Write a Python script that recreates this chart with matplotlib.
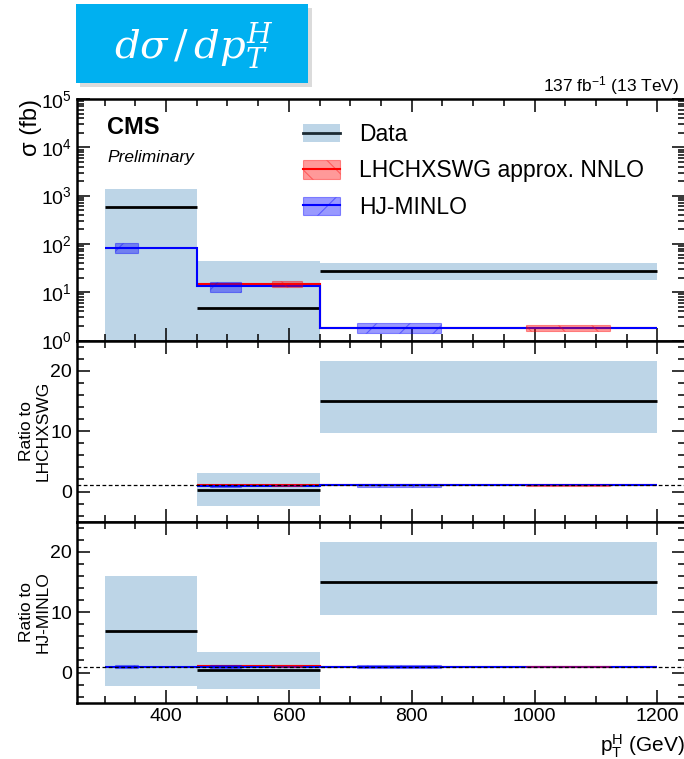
import numpy as np
import matplotlib
matplotlib.use("Agg")
import matplotlib.pyplot as plt
from matplotlib.patches import Patch, Rectangle
from matplotlib.lines import Line2D
from matplotlib.ticker import MultipleLocator, LogLocator, NullFormatter

plt.rcParams['font.family'] = ['Liberation Sans', 'DejaVu Sans']
plt.rcParams['mathtext.fontset'] = 'custom'
plt.rcParams['mathtext.rm'] = 'Liberation Sans'
plt.rcParams['mathtext.it'] = 'Liberation Sans:italic'
plt.rcParams['mathtext.bf'] = 'Liberation Sans:bold'
plt.rcParams['hatch.linewidth'] = 0.8

# pT(H) bins and cross sections in fb
pt_edges = [300, 450, 650, 1200]
data_xs = [583, 4.8, 27.4]
data_up = [1340, 44, 39.5]
data_lo = [-190, -35, 17.6]

lhc_xs = [np.nan, 14.5, 1.83]
lhc_up = [np.nan, 16.7, 2.05]
lhc_lo = [np.nan, 12.6, 1.56]

hj_xs = [84, 13.2, 1.83]
hj_up = [104, 16.5, 2.29]
hj_lo = [65, 10.3, 1.42]

BAND = '#bdd5e7'
HJ_SPAN = (0.11, 0.36)
LHC_SPAN = (0.61, 0.86)

edges = np.array(pt_edges, float)
lo_e, hi_e, widths = edges[:-1], edges[1:], np.diff(edges)


def style_axes(ax):
    ax.set_xlim(255, 1245)
    ax.xaxis.set_major_locator(MultipleLocator(200))
    ax.xaxis.set_minor_locator(MultipleLocator(50))
    ax.tick_params(which='both', direction='in', top=True, right=True, width=1.1)
    ax.tick_params(which='major', length=9.5, labelsize=14)
    ax.tick_params(which='minor', length=5)
    for s in ax.spines.values():
        s.set_linewidth(1.8)


def draw_data(ax, cen, up, lo, floor=None):
    bottom = np.array(lo, float)
    if floor is not None:
        bottom = np.clip(bottom, floor, None)
    ax.bar(lo_e, np.array(up) - bottom, bottom=bottom, width=widths, align='edge',
           color=BAND, linewidth=0, zorder=1)
    ax.hlines(cen, lo_e, hi_e, color='black', lw=2, zorder=3)


def draw_theory(ax, cen, up, lo, color, hatch, span):
    cen = np.asarray(cen, float)
    ok = ~np.isnan(cen)
    i0 = np.argmax(ok)
    ax.stairs(cen[i0:], edges[i0:], baseline=None, color=color, lw=1.5, zorder=4)
    for i in np.where(ok)[0]:
        x0 = lo_e[i] + span[0] * widths[i]
        w = (span[1] - span[0]) * widths[i]
        ax.add_patch(Rectangle((x0, lo[i]), w, up[i] - lo[i], facecolor=color, alpha=0.4,
                               edgecolor=color, hatch=hatch, lw=0.8, zorder=5))


fig = plt.figure(figsize=(6.84, 7.59), dpi=100)
W, H = 684, 759
L, R = 77, 685


def panel(top, bottom):
    return fig.add_axes([L / W, 1 - bottom / H, (R - L) / W, (bottom - top) / H])


ax = panel(99, 340.5)
ax_r1 = panel(340.5, 521.7)
ax_r2 = panel(521.7, 702.7)

# cross-section panel
ax.set_yscale('log')
draw_data(ax, data_xs, data_up, data_lo, floor=1e-3)
draw_theory(ax, lhc_xs, lhc_up, lhc_lo, 'red', '\\', LHC_SPAN)
draw_theory(ax, hj_xs, hj_up, hj_lo, 'blue', '/', HJ_SPAN)
ax.set_ylim(1, 1e5)
style_axes(ax)
ax.yaxis.set_major_locator(LogLocator(base=10, numticks=10))
ax.yaxis.set_minor_locator(LogLocator(base=10, subs=np.arange(2, 10), numticks=20))
ax.yaxis.set_minor_formatter(NullFormatter())
ax.tick_params(labelbottom=False)
ax.set_ylabel('σ (fb)', fontsize=17, loc='top')
ax.yaxis.set_label_coords(-0.057, 1.0)

ax.text(0.05, 0.93, 'CMS', transform=ax.transAxes, fontsize=17, fontweight='bold',
        va='top', ha='left')
ax.text(0.05, 0.79, 'Preliminary', transform=ax.transAxes, fontsize=12.5, style='italic',
        va='top', ha='left')
ax.text(0.99, 1.01, '137 fb$^{-1}$ (13 TeV)', transform=ax.transAxes, fontsize=12.5,
        ha='right', va='bottom')

handles = [
    (Patch(facecolor=BAND, edgecolor='none'), Line2D([], [], color='#1c2a33', lw=2)),
    (Patch(facecolor='red', alpha=0.4, edgecolor='red', hatch='\\', lw=0.8),
     Line2D([], [], color='red', lw=1.5)),
    (Patch(facecolor='blue', alpha=0.4, edgecolor='blue', hatch='/', lw=0.8),
     Line2D([], [], color='blue', lw=1.5)),
]
ax.legend(handles, ['Data', 'LHCHXSWG approx. NNLO', 'HJ-MINLO'], loc='upper left',
          bbox_to_anchor=(0.372, 0.9), frameon=False, fontsize=16.5, borderpad=0,
          borderaxespad=0, handlelength=1.6, handleheight=0.85, handletextpad=0.85,
          labelspacing=0.58)

# ratio panels
for axr, ref, label in [(ax_r1, lhc_xs, 'Ratio to\nLHCHXSWG'),
                        (ax_r2, hj_xs, 'Ratio to\nHJ-MINLO')]:
    ref = np.asarray(ref, float)
    draw_data(axr, np.array(data_xs) / ref, np.array(data_up) / ref, np.array(data_lo) / ref)
    draw_theory(axr, np.array(lhc_xs) / ref, np.array(lhc_up) / ref, np.array(lhc_lo) / ref,
                'red', '\\', LHC_SPAN)
    draw_theory(axr, np.array(hj_xs) / ref, np.array(hj_up) / ref, np.array(hj_lo) / ref,
                'blue', '/', HJ_SPAN)
    axr.axhline(1, color='black', lw=0.9, ls=(0, (3, 2)), zorder=6)
    axr.set_ylim(-5, 25)
    style_axes(axr)
    axr.yaxis.set_major_locator(MultipleLocator(10))
    axr.yaxis.set_minor_locator(MultipleLocator(2))
    axr.set_ylabel(label, fontsize=12.5, linespacing=1.1)
    axr.yaxis.set_label_coords(-0.044, 0.5)

ax_r1.tick_params(labelbottom=False)
ax_r2.set_xlabel(r'p$_\mathregular{T}^\mathregular{H}$ (GeV)', fontsize=15, loc='right',
                 labelpad=6)

# title badge with drop shadow
bx, by, bw, bh = 76 / W, 1 - 83 / H, 232 / W, 79 / H
fig.patches.append(Rectangle((bx + 4 / W, by - 4 / H), bw, bh, transform=fig.transFigure,
                             facecolor='#888888', alpha=0.3, lw=0, zorder=0))
fig.patches.append(Rectangle((bx, by), bw, bh, transform=fig.transFigure,
                             facecolor='#00b0f0', lw=0, zorder=1))
fig.text(bx + bw / 2 + 0.003, by + bh / 2 - 0.004, r'$d\sigma\,/\,dp_T^H$', color='white',
         fontsize=29, ha='center', va='center', math_fontfamily='dejavuserif', zorder=2)

fig.savefig('out.png', dpi=100)
